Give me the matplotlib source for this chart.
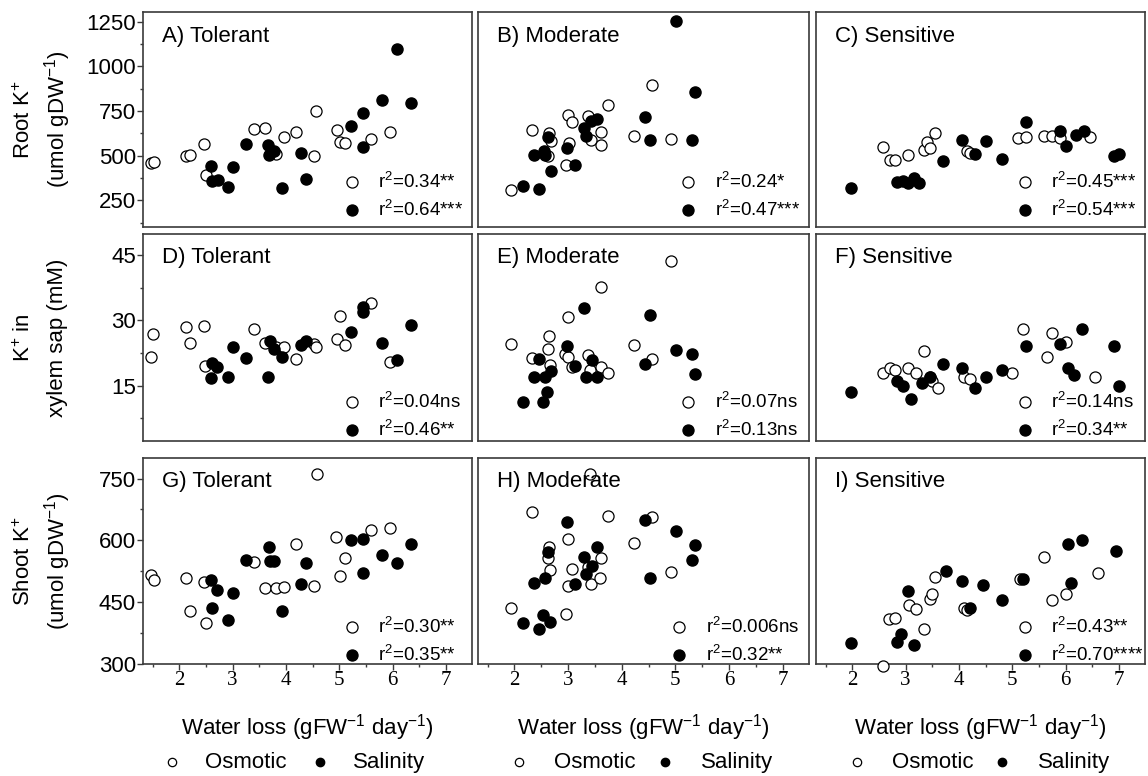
import matplotlib.pyplot as plt
from matplotlib.ticker import MultipleLocator

plt.rcParams['font.family'] = ['Liberation Sans', 'DejaVu Sans']
plt.rcParams['mathtext.fontset'] = 'custom'
plt.rcParams['mathtext.rm'] = 'Liberation Sans'
plt.rcParams['mathtext.it'] = 'Liberation Sans:italic'

# ---------------- Root K+ (umol gDW-1) ----------------
root_tol_osm_x = [1.47, 1.52, 2.13, 2.21, 2.47, 2.50, 3.41, 3.61, 3.96, 4.18, 3.81, 4.53, 4.56, 4.95, 5.01, 5.11, 5.60, 5.95]
root_tol_osm_y = [458, 464, 495, 505, 565, 389, 648, 652, 602, 632, 510, 499, 752, 645, 574, 570, 594, 632]
root_tol_sal_x = [2.59, 2.61, 2.72, 2.91, 3.01, 3.25, 3.67, 3.69, 3.77, 3.92, 4.28, 4.38, 5.22, 5.45, 5.45, 5.80, 6.08, 6.35]
root_tol_sal_y = [439, 356, 365, 324, 436, 566, 559, 505, 523, 316, 514, 371, 663, 741, 548, 812, 1096, 792]

root_mod_osm_x = [1.93, 2.32, 2.64, 2.69, 2.62, 2.99, 3.07, 3.01, 2.96, 3.37, 3.43, 3.61, 3.61, 3.74, 4.22, 4.56, 4.91]
root_mod_osm_y = [309, 645, 626, 579, 495, 725, 689, 570, 445, 721, 589, 632, 562, 783, 609, 898, 593]
root_mod_sal_x = [2.16, 2.45, 2.62, 2.37, 2.55, 2.57, 2.69, 2.97, 3.13, 3.29, 3.33, 3.43, 3.53, 4.44, 4.53, 5.01, 5.37, 5.30]
root_mod_sal_y = [332, 313, 604, 505, 523, 505, 415, 542, 445, 654, 607, 691, 704, 717, 585, 1256, 857, 587]

root_sen_osm_x = [2.58, 2.70, 2.81, 3.04, 3.35, 3.40, 3.45, 3.55, 4.15, 4.20, 5.10, 5.25, 5.60, 5.75, 5.90, 6.45]
root_sen_osm_y = [548, 477, 477, 505, 530, 575, 545, 625, 525, 515, 600, 605, 610, 610, 600, 605]
root_sen_sal_x = [1.98, 2.83, 2.95, 3.05, 3.15, 3.25, 3.70, 4.05, 4.30, 4.50, 4.80, 5.25, 5.90, 6.00, 6.20, 6.35, 6.90, 7.00]
root_sen_sal_y = [320, 350, 356, 345, 375, 345, 470, 585, 510, 580, 480, 690, 640, 555, 615, 640, 500, 510]

# ---------------- K+ in xylem sap (mM) ----------------
xyl_tol_osm_x = [1.51, 1.47, 2.13, 2.20, 2.47, 2.49, 3.41, 3.60, 3.82, 3.96, 4.18, 4.53, 4.57, 5.01, 4.95, 5.10, 5.60, 5.96]
xyl_tol_osm_y = [26.8, 21.5, 28.4, 24.8, 28.7, 19.5, 28.0, 24.8, 23.9, 23.9, 21.2, 24.5, 23.9, 31.0, 25.7, 24.3, 33.9, 20.5]
xyl_tol_sal_x = [2.59, 2.61, 2.71, 2.91, 3.01, 3.25, 3.67, 3.71, 3.77, 3.92, 4.28, 4.38, 5.22, 5.45, 5.45, 5.80, 6.08, 6.35]
xyl_tol_sal_y = [16.8, 20.2, 19.3, 16.9, 23.8, 21.4, 17.0, 25.2, 23.5, 21.6, 24.3, 25.3, 27.3, 33.1, 32.0, 24.9, 20.9, 28.9]

xyl_mod_osm_x = [1.93, 2.33, 2.64, 2.62, 2.67, 2.99, 2.95, 3.00, 3.07, 3.37, 3.40, 3.61, 3.74, 3.61, 4.22, 4.56, 4.91]
xyl_mod_osm_y = [24.5, 21.4, 26.4, 23.5, 19.7, 30.7, 22.2, 21.6, 19.3, 22.0, 18.6, 19.3, 17.8, 37.6, 24.3, 21.2, 43.5]
xyl_mod_sal_x = [2.16, 2.54, 2.61, 2.37, 2.57, 2.69, 2.45, 2.97, 3.13, 3.30, 3.33, 3.45, 3.53, 4.44, 4.53, 5.01, 5.31, 5.37]
xyl_mod_sal_y = [11.3, 11.3, 13.6, 16.9, 16.9, 18.4, 21.2, 24.1, 19.5, 32.9, 16.9, 20.9, 16.9, 20.0, 31.1, 23.2, 22.2, 17.6]

xyl_sen_osm_x = [2.58, 2.70, 2.81, 3.04, 3.20, 3.35, 3.45, 3.50, 3.60, 4.10, 4.20, 5.00, 5.20, 5.65, 5.75, 6.00, 6.55]
xyl_sen_osm_y = [18.0, 19.0, 18.5, 19.0, 18.0, 23.0, 17.0, 16.0, 14.5, 17.0, 16.5, 18.0, 28.0, 21.5, 27.0, 25.0, 17.0]
xyl_sen_sal_x = [1.98, 2.83, 2.95, 3.10, 3.30, 3.45, 3.70, 4.05, 4.30, 4.50, 4.80, 5.25, 5.90, 6.05, 6.15, 6.30, 6.90, 7.00]
xyl_sen_sal_y = [13.5, 16.0, 15.0, 12.0, 15.5, 17.0, 20.0, 19.0, 14.5, 17.0, 18.5, 24.0, 24.5, 19.0, 17.5, 28.0, 24.0, 15.0]

# ---------------- Shoot K+ (umol gDW-1) ----------------
sht_tol_osm_x = [1.47, 1.52, 2.13, 2.20, 2.47, 2.50, 3.41, 3.61, 3.81, 3.97, 4.18, 4.53, 4.58, 4.94, 5.10, 5.01, 5.60, 5.96]
sht_tol_osm_y = [516, 504, 508, 427, 499, 399, 548, 485, 484, 486, 590, 488, 762, 608, 556, 514, 625, 630]
sht_tol_sal_x = [2.59, 2.71, 2.61, 2.91, 3.01, 3.25, 3.68, 3.70, 3.77, 3.92, 4.28, 4.38, 5.22, 5.45, 5.45, 5.80, 6.08, 6.35]
sht_tol_sal_y = [504, 480, 435, 405, 472, 551, 584, 550, 550, 429, 494, 544, 601, 602, 521, 563, 544, 590]

sht_mod_osm_x = [1.93, 2.32, 2.64, 2.62, 2.67, 2.99, 3.07, 3.00, 2.96, 3.41, 3.37, 3.42, 3.61, 3.59, 3.74, 4.22, 4.56, 4.91]
sht_mod_osm_y = [435, 669, 583, 556, 528, 602, 530, 488, 421, 762, 535, 493, 556, 508, 659, 593, 657, 522]
sht_mod_sal_x = [2.16, 2.45, 2.54, 2.67, 2.37, 2.57, 2.62, 2.97, 3.13, 3.29, 3.33, 3.44, 3.53, 4.44, 4.53, 5.01, 5.37, 5.30]
sht_mod_sal_y = [399, 385, 417, 401, 497, 508, 571, 644, 493, 560, 518, 538, 584, 648, 508, 623, 589, 553]

sht_sen_osm_x = [2.58, 2.69, 2.80, 3.07, 3.20, 3.35, 3.45, 3.50, 3.55, 4.10, 4.15, 5.15, 5.60, 5.75, 6.00, 6.60]
sht_sen_osm_y = [293, 408, 410, 442, 432, 385, 458, 470, 510, 435, 430, 505, 560, 455, 470, 520]
sht_sen_sal_x = [1.98, 2.83, 2.92, 3.04, 3.15, 3.75, 4.05, 4.20, 4.45, 4.80, 5.20, 6.05, 6.10, 6.30, 6.95]
sht_sen_sal_y = [350, 352, 373, 477, 345, 525, 500, 435, 490, 455, 505, 590, 497, 600, 575]

# panel titles and r2 labels
titles = ['A) Tolerant', 'B) Moderate', 'C) Sensitive',
          'D) Tolerant', 'E) Moderate', 'F) Sensitive',
          'G) Tolerant', 'H) Moderate', 'I) Sensitive']
r2_osm = ['0.34**', '0.24*', '0.45***', '0.04ns', '0.07ns', '0.14ns', '0.30**', '0.006ns', '0.43**']
r2_sal = ['0.64***', '0.47***', '0.54***', '0.46**', '0.13ns', '0.34**', '0.35**', '0.32**', '0.70****']

row_labels = [('Root K$^{+}$', '(umol gDW$^{-1}$)'),
              ('K$^{+}$ in', 'xylem sap (mM)'),
              ('Shoot K$^{+}$', '(umol gDW$^{-1}$)')]
row_ticks = [[250, 500, 750, 1000, 1250], [15, 30, 45], [300, 450, 600, 750]]
row_minor = [125, 7.5, 75]
row_ylim = [(100, 1304), (2.3, 49.8), (299, 800)]
x_ticks = [2, 3, 4, 5, 6, 7]

panels = [
    (root_tol_osm_x, root_tol_osm_y, root_tol_sal_x, root_tol_sal_y),
    (root_mod_osm_x, root_mod_osm_y, root_mod_sal_x, root_mod_sal_y),
    (root_sen_osm_x, root_sen_osm_y, root_sen_sal_x, root_sen_sal_y),
    (xyl_tol_osm_x, xyl_tol_osm_y, xyl_tol_sal_x, xyl_tol_sal_y),
    (xyl_mod_osm_x, xyl_mod_osm_y, xyl_mod_sal_x, xyl_mod_sal_y),
    (xyl_sen_osm_x, xyl_sen_osm_y, xyl_sen_sal_x, xyl_sen_sal_y),
    (sht_tol_osm_x, sht_tol_osm_y, sht_tol_sal_x, sht_tol_sal_y),
    (sht_mod_osm_x, sht_mod_osm_y, sht_mod_sal_x, sht_mod_sal_y),
    (sht_sen_osm_x, sht_sen_osm_y, sht_sen_sal_x, sht_sen_sal_y),
]

W, H = 1148, 776
fig = plt.figure(figsize=(W / 100, H / 100), dpi=100)

# pixel boxes of the grid (left, right) and (top, bottom)
cols = [(143, 472), (478, 809), (816, 1145)]
rows = [(12, 227), (234, 441), (458, 664)]
r2_y = [(0.208, 0.079), (0.187, 0.053), (0.180, 0.044)]

for i in range(9):
    r, c = divmod(i, 3)
    (x0, x1), (y0, y1) = cols[c], rows[r]
    ax = fig.add_axes([x0 / W, 1 - y1 / H, (x1 - x0) / W, (y1 - y0) / H])
    ox, oy, sx, sy = panels[i]

    ax.scatter(ox, oy, s=64, facecolors='white', edgecolors='black',
               linewidths=0.9, zorder=3, clip_on=False)
    ax.scatter(sx, sy, s=64, color='black', zorder=4, clip_on=False)

    ax.set_xlim(1.32, 7.49)
    ax.set_ylim(*row_ylim[r])

    for sp in ax.spines.values():
        sp.set_color('#3a3a3a')
        sp.set_linewidth(1.2)

    ax.text(0.058, 0.885, titles[i], transform=ax.transAxes, fontsize=16,
            va='center', ha='left')

    # r2 key inside the panel
    mx = 0.608 if i == 7 else 0.635
    for lab, yy, fc in [(r2_osm[i], r2_y[r][0], 'white'),
                        (r2_sal[i], r2_y[r][1], 'black')]:
        ax.scatter([mx], [yy], s=64, facecolors=fc, edgecolors='black',
                   linewidths=0.9, transform=ax.transAxes, zorder=5)
        ax.text(mx + 0.08, yy, 'r$^2$=' + lab, transform=ax.transAxes,
                fontsize=13.5, va='center', ha='left')

    # ticks
    ax.set_xticks(x_ticks)
    ax.xaxis.set_minor_locator(MultipleLocator(0.5))
    ax.set_yticks(row_ticks[r])
    ax.yaxis.set_minor_locator(MultipleLocator(row_minor[r]))
    ax.tick_params(which='major', direction='out', length=4, width=1, color='#3a3a3a')
    ax.tick_params(which='minor', direction='out', length=2.5, width=1, color='#3a3a3a')

    if c == 0:
        ax.tick_params(axis='y', labelsize=16, pad=1)
        ax.set_yticklabels([str(t) for t in row_ticks[r]])
    else:
        ax.tick_params(axis='y', which='both', left=False, labelleft=False)

    if r == 2:
        ax.set_xticklabels([str(t) for t in x_ticks], fontfamily='Liberation Serif',
                           fontsize=15)
        ax.tick_params(axis='x', pad=1)
        ax.text(0.5, -0.31, r'Water loss (gFW$^{-1}$ day$^{-1}$)', transform=ax.transAxes,
                fontsize=16, ha='center', va='center')
        # series key under each column
        lx = [0.088, 0.188, 0.538, 0.637] if c == 0 else [0.125, 0.23, 0.565, 0.675]
        ax.scatter([lx[0]], [-0.476], s=36, facecolors='white', edgecolors='black',
                   linewidths=0.9, transform=ax.transAxes, clip_on=False)
        ax.text(lx[1], -0.476, 'Osmotic', transform=ax.transAxes, fontsize=16,
                ha='left', va='center')
        ax.scatter([lx[2]], [-0.476], s=36, color='black', transform=ax.transAxes,
                   clip_on=False)
        ax.text(lx[3], -0.476, 'Salinity', transform=ax.transAxes, fontsize=16,
                ha='left', va='center')
    else:
        ax.tick_params(axis='x', which='both', bottom=False, labelbottom=False)

# row labels on the left
for r, (l1, l2) in enumerate(row_labels):
    yc = 1 - (rows[r][0] + rows[r][1]) / 2 / H
    fig.text(24 / W, yc, l1, rotation=90, fontsize=16, ha='center', va='center')
    fig.text(58 / W, yc, l2, rotation=90, fontsize=16, ha='center', va='center')

fig.savefig('out.png', dpi=100)
